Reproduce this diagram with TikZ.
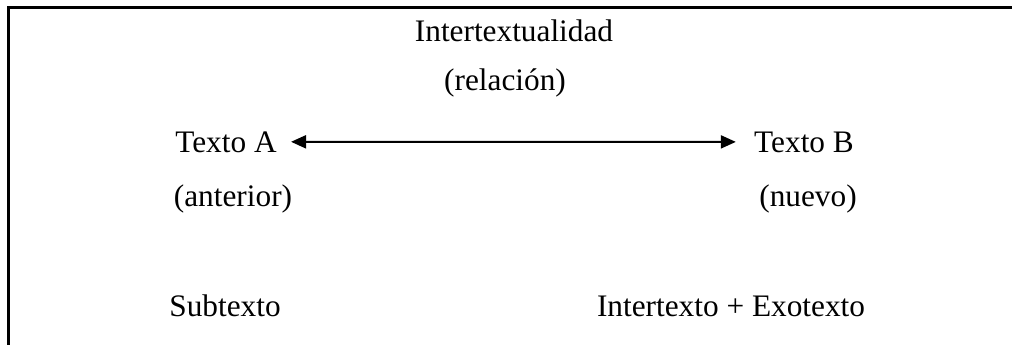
\documentclass[tikz,border=0pt]{standalone}
\usepackage{fontspec}
\setmainfont{Liberation Serif}
\usetikzlibrary{arrows.meta}

\begin{document}
\begin{tikzpicture}[x=0.5pt,y=0.5pt,
    label text/.style={anchor=base,inner sep=0pt,font=\fontsize{15.65}{18}\selectfont},
    link/.style={black,line width=1pt,{Triangle[length=7.5pt,width=6.5pt]}-{Triangle[length=7.5pt,width=6.5pt]}}]

  \useasboundingbox (0,0) rectangle (1012,344);

  % Frame
  \draw[black,line width=1.5pt] (8.3,-5) -- (8.3,336.5) -- (1020,336.5);

  % Relation
  \node[label text] (inter) at (514,303) {Intertextualidad};
  \node[label text] (rel) at (505,254) {(relación)};

  % Texts
  \node[label text] (texta) at (226,192) {Texto A};
  \node[label text] (textb) at (804,192) {Texto B};
  \node[label text] (ant) at (233,138) {(anterior)};
  \node[label text] (nue) at (808,138) {(nuevo)};

  % Connect both texts
  \draw[link,shorten <=7pt,shorten >=9pt] (texta.east) -- (textb.west);

  % Kinds of text
  \node[label text] (sub) at (225,28) {Subtexto};
  \node[label text] (inex) at (731,28) {Intertexto + Exotexto};

\end{tikzpicture}
\end{document}
